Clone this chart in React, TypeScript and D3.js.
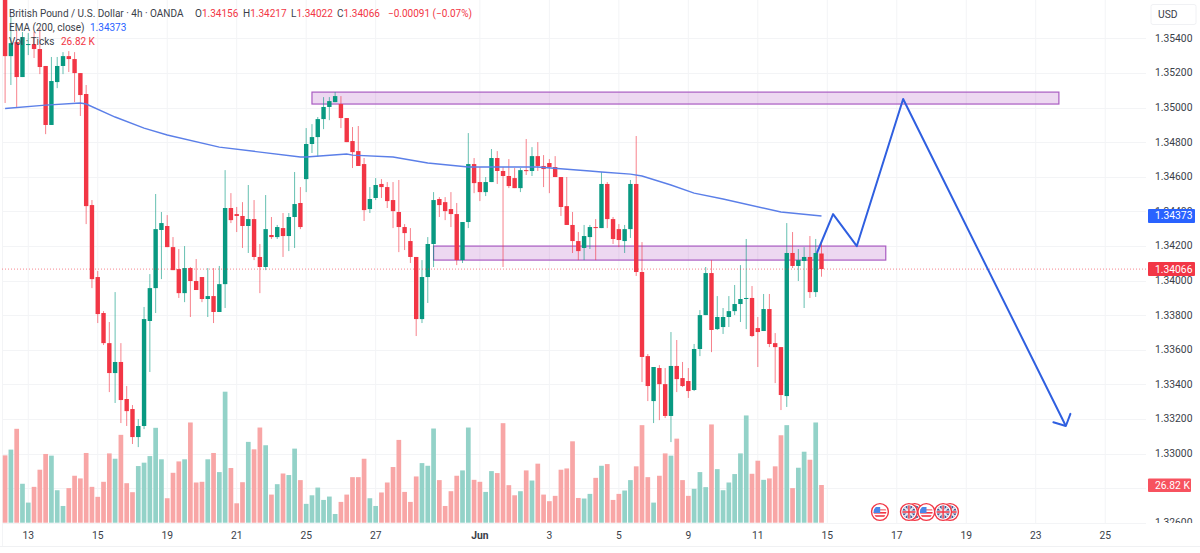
import React from "react";
import * as d3 from "d3";

// Prices in 1e-5 units (pipettes)
const opens = [135650,135297,135378,135176,135361,135367,135338,135240,134899,135147,
135240,135297,135280,135199,135078,134436,134020,133812,133638,133465,
133529,133315,133257,133095,133159,133766,133956,134292,134315,134193,
134066,133927,134072,133997,134020,133893,133910,133818,133979,134419,
134384,134373,134315,134355,134136,134078,134263,134251,134303,134257,
134367,134448,134586,134789,134829,134933,135003,135031,135020,134939,
134806,134748,134673,134413,134477,134558,134540,134465,134396,134309,
134228,134136,133777,134020,134211,134471,134453,134413,134384,134118,
134338,134673,134569,134511,134569,134708,134633,134604,134592,134534,
134638,134633,134719,134662,134679,134656,134598,134430,134321,134228,
134188,134251,134309,134303,134558,134355,134297,134228,134297,134558,
134049,133563,133303,133494,133401,133217,133506,133436,133419,133367,
133604,133800,134043,133719,133731,133789,133823,133864,133893,133899,
133725,133708,133835,133638,133615,133332,134159,134084,134113,134136,
133933,134156];
const highs = [135679,135523,135448,135436,135430,135436,135459,135240,135292,135292,
135320,135326,135320,135199,135130,134465,134055,133823,133760,133933,
133638,133390,133280,133199,133847,134037,134500,134396,134378,134251,
134182,134199,134078,134124,134020,134072,134072,134084,134638,134505,
134425,134453,134552,134465,134211,134494,134367,134321,134390,134390,
134627,134540,134881,134904,134945,135060,135060,135089,135066,134939,
134887,134893,134708,134540,134592,134586,134569,134569,134581,134326,
134303,134136,134118,134251,134511,134482,134482,134511,134448,134338,
134852,134708,134656,134598,134760,134748,134656,134702,134650,134650,
134818,134771,134800,134725,134702,134719,134598,134598,134396,134280,
134321,134321,134355,134627,134569,134367,134326,134321,134581,134835,
134222,133575,133500,133511,133494,133702,133656,133529,133494,133633,
133829,134078,134118,133910,133841,133910,133974,134089,134240,133968,
133789,133922,133922,133696,133615,134332,134280,134182,134193,134257,
134240,134217];
const lows = [135026,135130,135003,135176,135303,135286,135193,134846,134899,135112,
135193,135205,135031,134951,134326,133956,133754,133627,133355,133292,
133176,133159,133055,133037,133141,133471,133812,134008,134193,134060,
133899,133875,133789,133945,133875,133789,133754,133818,133841,134332,
134280,134188,134159,134118,133927,134060,134240,134240,134136,134170,
134188,134297,134511,134737,134714,134875,134927,135031,134881,134800,
134650,134662,134344,134390,134465,134477,134419,134303,134164,134176,
134101,133679,133754,133870,134078,134367,134349,134309,134089,134101,
134303,134505,134459,134488,134569,134558,134078,134534,134534,134511,
134610,134604,134633,134540,134505,134598,134373,134321,134159,134118,
134118,134182,134118,134303,134303,134211,134193,134159,134246,134026,
133413,133303,133176,133193,133205,133066,133355,133384,133321,133361,
133563,133800,133586,133714,133691,133731,133800,133760,133719,133673,
133500,133708,133615,133407,133251,133269,134072,133997,133841,133899,
133905,134022];
const closes = [135297,135372,135176,135407,135367,135338,135234,134899,135153,135240,
135297,135280,135199,135072,134430,134008,133806,133638,133465,133529,
133309,133245,133095,133159,133777,133956,134297,134332,134193,134060,
133927,134072,133997,133945,133893,133910,133818,133979,134419,134349,
134373,134315,134355,134136,134078,134297,134251,134309,134257,134367,
134442,134309,134789,134829,134933,135003,135037,135066,134939,134800,
134742,134662,134407,134471,134552,134540,134459,134401,134309,134274,
134136,133777,134020,134211,134465,134436,134401,134384,134118,134338,
134673,134563,134511,134569,134708,134633,134604,134546,134534,134638,
134633,134719,134662,134644,134656,134598,134425,134321,134228,134170,
134257,134309,134303,134558,134355,134240,134234,134297,134558,134049,
133558,133390,133500,133401,133217,133506,133430,133390,133361,133604,
133800,134043,133714,133789,133789,133823,133864,133893,133899,133679,
133702,133835,133633,133615,133338,134159,134084,134118,134136,133933,
134159,134066];
// Tick volume, thousands
const volumes = [47.9,52.0,66.8,27.7,14.3,25.5,37.7,48.9,47.7,23.1,
11.9,24.6,33.4,31.5,49.6,25.5,18.4,29.1,49.3,45.5,
62.5,28.1,21.7,40.3,42.7,47.4,67.5,45.1,17.4,35.5,
43.6,45.1,71.3,28.6,29.1,45.1,49.6,36.0,93.2,38.9,
13.8,28.8,57.5,52.2,67.7,55.1,20.0,27.4,35.0,33.9,
52.7,30.3,13.4,19.5,25.0,16.2,18.6,6.2,14.8,20.0,
32.4,32.4,45.5,17.4,11.9,21.5,28.6,39.6,58.9,21.9,
14.8,32.9,42.4,40.5,67.0,30.3,11.9,22.4,33.4,37.2,
67.7,30.5,29.1,21.9,36.7,35.3,70.8,26.7,19.5,22.4,
37.2,30.0,42.0,20.0,15.3,19.1,37.7,38.6,57.9,17.6,
17.2,20.5,31.9,40.5,41.7,16.2,20.5,22.9,30.3,40.1,
69.4,32.4,14.3,33.4,49.3,47.7,59.8,30.3,19.1,24.1,
36.0,25.3,69.9,38.1,23.1,28.6,34.6,49.3,76.3,34.8,
44.1,30.5,31.5,40.1,62.2,69.4,24.6,39.1,50.5,44.8,
71.3,26.82];

const emaBars = [0,7,13,14,19,24,28,37,51,52,59,60,67,73,80,92,101,103,108,110,115,119,124,134,141];
const emaValues = [134994,135014,135026,135020,134945,134881,134841,134771,134714,134714,134731,134725,134714,134679,134656,134656,134633,134627,134615,134604,134552,134505,134471,134396,134373];

const forecastBars = [140.2,143,147.1,155.1,183.2];
const forecastValues = [134159,134384,134199,135049,133159];

const zoneBarsStart = [53,74];
const zoneBarsEnd = [182,152.1];
const zoneTops = [135089,134199];
const zoneBottoms = [135020,134118];

const priceTicks = [1.354,1.352,1.35,1.348,1.346,1.344,1.342,1.34,1.338,1.336,1.334,1.332,1.33,1.326];
const gridPrices = [1.354,1.352,1.35,1.348,1.346,1.344,1.342,1.34,1.338,1.336,1.334,1.332,1.33,1.328,1.326];
const timeBars = [4,16,28,40,52,64,82,94,106,118,130,142,154,166,178,190];
const timeLabels = ["13","15","19","21","25","27","Jun","3","5","9","11","15","17","19","23","25"];

const eventBars = [151.1,157.1,156.1,159.1,163.2,162];
const eventKinds = ["us","gb","gb","us","gb","gb"];

const lastPrice = 1.34066;
const emaPrice = 1.34373;
const lastVolume = 26.82;

const RED = "#f23645";
const GREEN = "#089981";
const VOL_RED = "#f8a6a6";
const VOL_GREEN = "#93d2c8";
const BLUE = "#2962ff";
const FONT = "Roboto, sans-serif";
const TEXT = "#3a3e49";

const x = d3.scaleLinear().domain([0, 141]).range([5.1, 821.5]);
const y = d3.scaleLinear().domain([1.326, 1.354]).range([522.7, 38.3]);
const py = (v: number) => y(v / 1e5);
const vy = d3.scaleLinear().domain([0, lastVolume]).range([522.7, 485]);

const emaLine = d3.line<number>().x((b) => x(b)).y((_, i) => py(emaValues[i]));
const forecastLine = d3.line<number>().x((b) => x(b)).y((_, i) => py(forecastValues[i]));

function arrowHead() {
  const n = forecastBars.length - 1;
  const tx = x(forecastBars[n]), ty = py(forecastValues[n]);
  const fx = x(forecastBars[n - 1]), fy = py(forecastValues[n - 1]);
  const a = Math.atan2(ty - fy, tx - fx);
  const len = 13;
  const s = 0.62;
  const p = (d: number) => [tx - len * Math.cos(a + d), ty - len * Math.sin(a + d)];
  const [a1, a2] = [p(s + 0.2), p(-s - 0.2)];
  return `M${a1[0]},${a1[1]}L${tx},${ty}L${a2[0]},${a2[1]}`;
}

function EventIcon({ cx, kind, id }: { cx: number; kind: string; id: string }) {
  const cy = 512;
  return (
    <g>
      <circle cx={cx} cy={cy} r={8.4} fill="#fff" stroke={RED} strokeWidth={1.4} />
      <clipPath id={id}><circle cx={cx} cy={cy} r={6.4} /></clipPath>
      <g clipPath={`url(#${id})`}>
        {kind === "us" ? (
          <g>
            <rect x={cx - 7} y={cy - 7} width={14} height={14} fill="#fff" />
            <rect x={cx - 7} y={cy - 3} width={14} height={1.6} fill="#f28b92" />
            <rect x={cx - 7} y={cy} width={14} height={1.6} fill={RED} />
            <rect x={cx - 7} y={cy + 3.2} width={14} height={1.6} fill={RED} />
            <rect x={cx - 7} y={cy - 5} width={7.2} height={6} fill="#4a86e8" />
          </g>
        ) : (
          <g>
            <rect x={cx - 7} y={cy - 7} width={14} height={14} fill="#3b4f8f" />
            <path d={`M${cx - 7},${cy - 7}L${cx + 7},${cy + 7}M${cx + 7},${cy - 7}L${cx - 7},${cy + 7}`} stroke="#e8e8ee" strokeWidth={2} />
            <path d={`M${cx},${cy - 7}V${cy + 7}M${cx - 7},${cy}H${cx + 7}`} stroke="#e8e8ee" strokeWidth={3} />
            <path d={`M${cx},${cy - 7}V${cy + 7}M${cx - 7},${cy}H${cx + 7}`} stroke={RED} strokeWidth={1.4} />
          </g>
        )}
      </g>
    </g>
  );
}

export default function App() {
  const barW = 4.4;
  const volW = 4.7;
  return (
    <svg width={1200} height={553} style={{ position: "fixed", left: 0, top: 0, display: "block", background: "#fff" }} fontFamily={FONT}>
      <defs>
        <clipPath id="pane"><rect x={0} y={0} width={1146} height={523} /></clipPath>
        <clipPath id="axisClip"><rect x={1146} y={0} width={54} height={523} /></clipPath>
      </defs>

      {/* grid */}
      <g stroke="#f3f4f6" strokeWidth={1}>
        {gridPrices.map((p) => <line key={p} x1={2} x2={1146} y1={Math.round(y(p)) + 0.5} y2={Math.round(y(p)) + 0.5} />)}
        {timeBars.map((b) => <line key={b} x1={x(b)} x2={x(b)} y1={0} y2={523} />)}
        <line x1={2.5} x2={2.5} y1={0} y2={546} />
      </g>

      <g clipPath="url(#pane)">
        {/* volume */}
        {volumes.map((v, i) => (
          <rect key={i} x={x(i) - volW / 2} y={vy(v)} width={volW} height={vy(0) - vy(v)}
            fill={closes[i] >= opens[i] ? VOL_GREEN : VOL_RED} />
        ))}

        {/* zones */}
        {zoneTops.map((t, i) => (
          <rect key={i} x={x(zoneBarsStart[i])} y={py(t)} width={x(zoneBarsEnd[i]) - x(zoneBarsStart[i])} height={py(zoneBottoms[i]) - py(t)}
            fill="rgba(156,39,176,0.18)" stroke="#a95cc2" strokeWidth={1.2} />
        ))}

        {/* candles */}
        {opens.map((o, i) => {
          const c = closes[i];
          const col = c >= o ? GREEN : RED;
          const top = py(Math.max(o, c));
          const bot = py(Math.min(o, c));
          return (
            <g key={i}>
              <line x1={x(i)} x2={x(i)} y1={py(highs[i])} y2={py(lows[i])} stroke={col} strokeOpacity={0.62} strokeWidth={1} />
              <rect x={x(i) - barW / 2} y={top} width={barW} height={Math.max(bot - top, 1)} fill={col} />
            </g>
          );
        })}

        {/* EMA */}
        <path d={emaLine(emaBars) ?? ""} fill="none" stroke="#5b7fe8" strokeWidth={1.4} />

        {/* last price */}
        <line x1={2} x2={1148} y1={y(lastPrice)} y2={y(lastPrice)} stroke={RED} strokeOpacity={0.6} strokeWidth={1} strokeDasharray="1 2" />

        {/* forecast */}
        <path d={forecastLine(forecastBars) ?? ""} fill="none" stroke="#2f5fe0" strokeWidth={2} strokeLinejoin="round" />
        <path d={arrowHead()} fill="none" stroke="#2f5fe0" strokeWidth={2} strokeLinejoin="round" strokeLinecap="round" />

        {/* events */}
        {eventBars.map((b, i) => <EventIcon key={i} cx={x(b)} kind={eventKinds[i]} id={`ev${i}`} />)}
      </g>

      {/* legend */}
      <g fontSize={10} fill={TEXT}>
        <text x={9} y={17}>British Pound / U.S. Dollar · 4h · OANDA</text>
        <text x={195} y={17}>O<tspan fill={RED}>1.34156</tspan></text>
        <text x={243} y={17}>H<tspan fill={RED}>1.34217</tspan></text>
        <text x={291} y={17}>L<tspan fill={RED}>1.34022</tspan></text>
        <text x={337} y={17}>C<tspan fill={RED}>1.34066</tspan></text>
        <text x={388} y={17} fill={RED}>−0.00091 (−0.07%)</text>
        <text x={9} y={31}>EMA (200, close)</text>
        <text x={90} y={31} fill={BLUE}>1.34373</text>
        <text x={9} y={45}>Vol · Ticks</text>
        <text x={61} y={45} fill={RED}>26.82 K</text>
      </g>

      {/* price axis */}
      <g clipPath="url(#axisClip)" fontSize={10.3} fill={TEXT}>
        {priceTicks.map((p) => (
          <text key={p} x={1155} y={y(p)} dominantBaseline="central">{p.toFixed(5)}</text>
        ))}
      </g>

      {/* USD */}
      <rect x={1151} y={4.5} width={45} height={20} rx={2} fill="#fff" stroke="#f0f1f4" />
      <text x={1158} y={14.5} fontSize={10.3} fill={TEXT} dominantBaseline="central">USD</text>

      {/* axis labels */}
      <rect x={1148} y={y(emaPrice) - 7} width={47} height={14} fill={BLUE} rx={1} />
      <text x={1155} y={y(emaPrice)} fontSize={10.3} fill="#fff" dominantBaseline="central">{emaPrice.toFixed(5)}</text>
      <rect x={1148} y={y(lastPrice) - 7} width={47} height={14} fill={RED} rx={1} />
      <text x={1155} y={y(lastPrice)} fontSize={10.3} fill="#fff" dominantBaseline="central">{lastPrice.toFixed(5)}</text>
      <rect x={1148} y={vy(lastVolume) - 6.5} width={43} height={13.5} fill="#f7525f" rx={1} />
      <text x={1155} y={vy(lastVolume) + 0.5} fontSize={10.3} fill="#fff" dominantBaseline="central">{lastVolume} K</text>

      {/* time axis */}
      <g fontSize={10.3} fill={TEXT} textAnchor="middle">
        {timeBars.map((b, i) => (
          <text key={b} x={x(b)} y={535} dominantBaseline="central" fontWeight={timeLabels[i] === "Jun" ? 700 : 400}>{timeLabels[i]}</text>
        ))}
      </g>

      {/* frame */}
      <line x1={0} x2={1200} y1={546.5} y2={546.5} stroke="#f0f1f3" />
    </svg>
  );
}
